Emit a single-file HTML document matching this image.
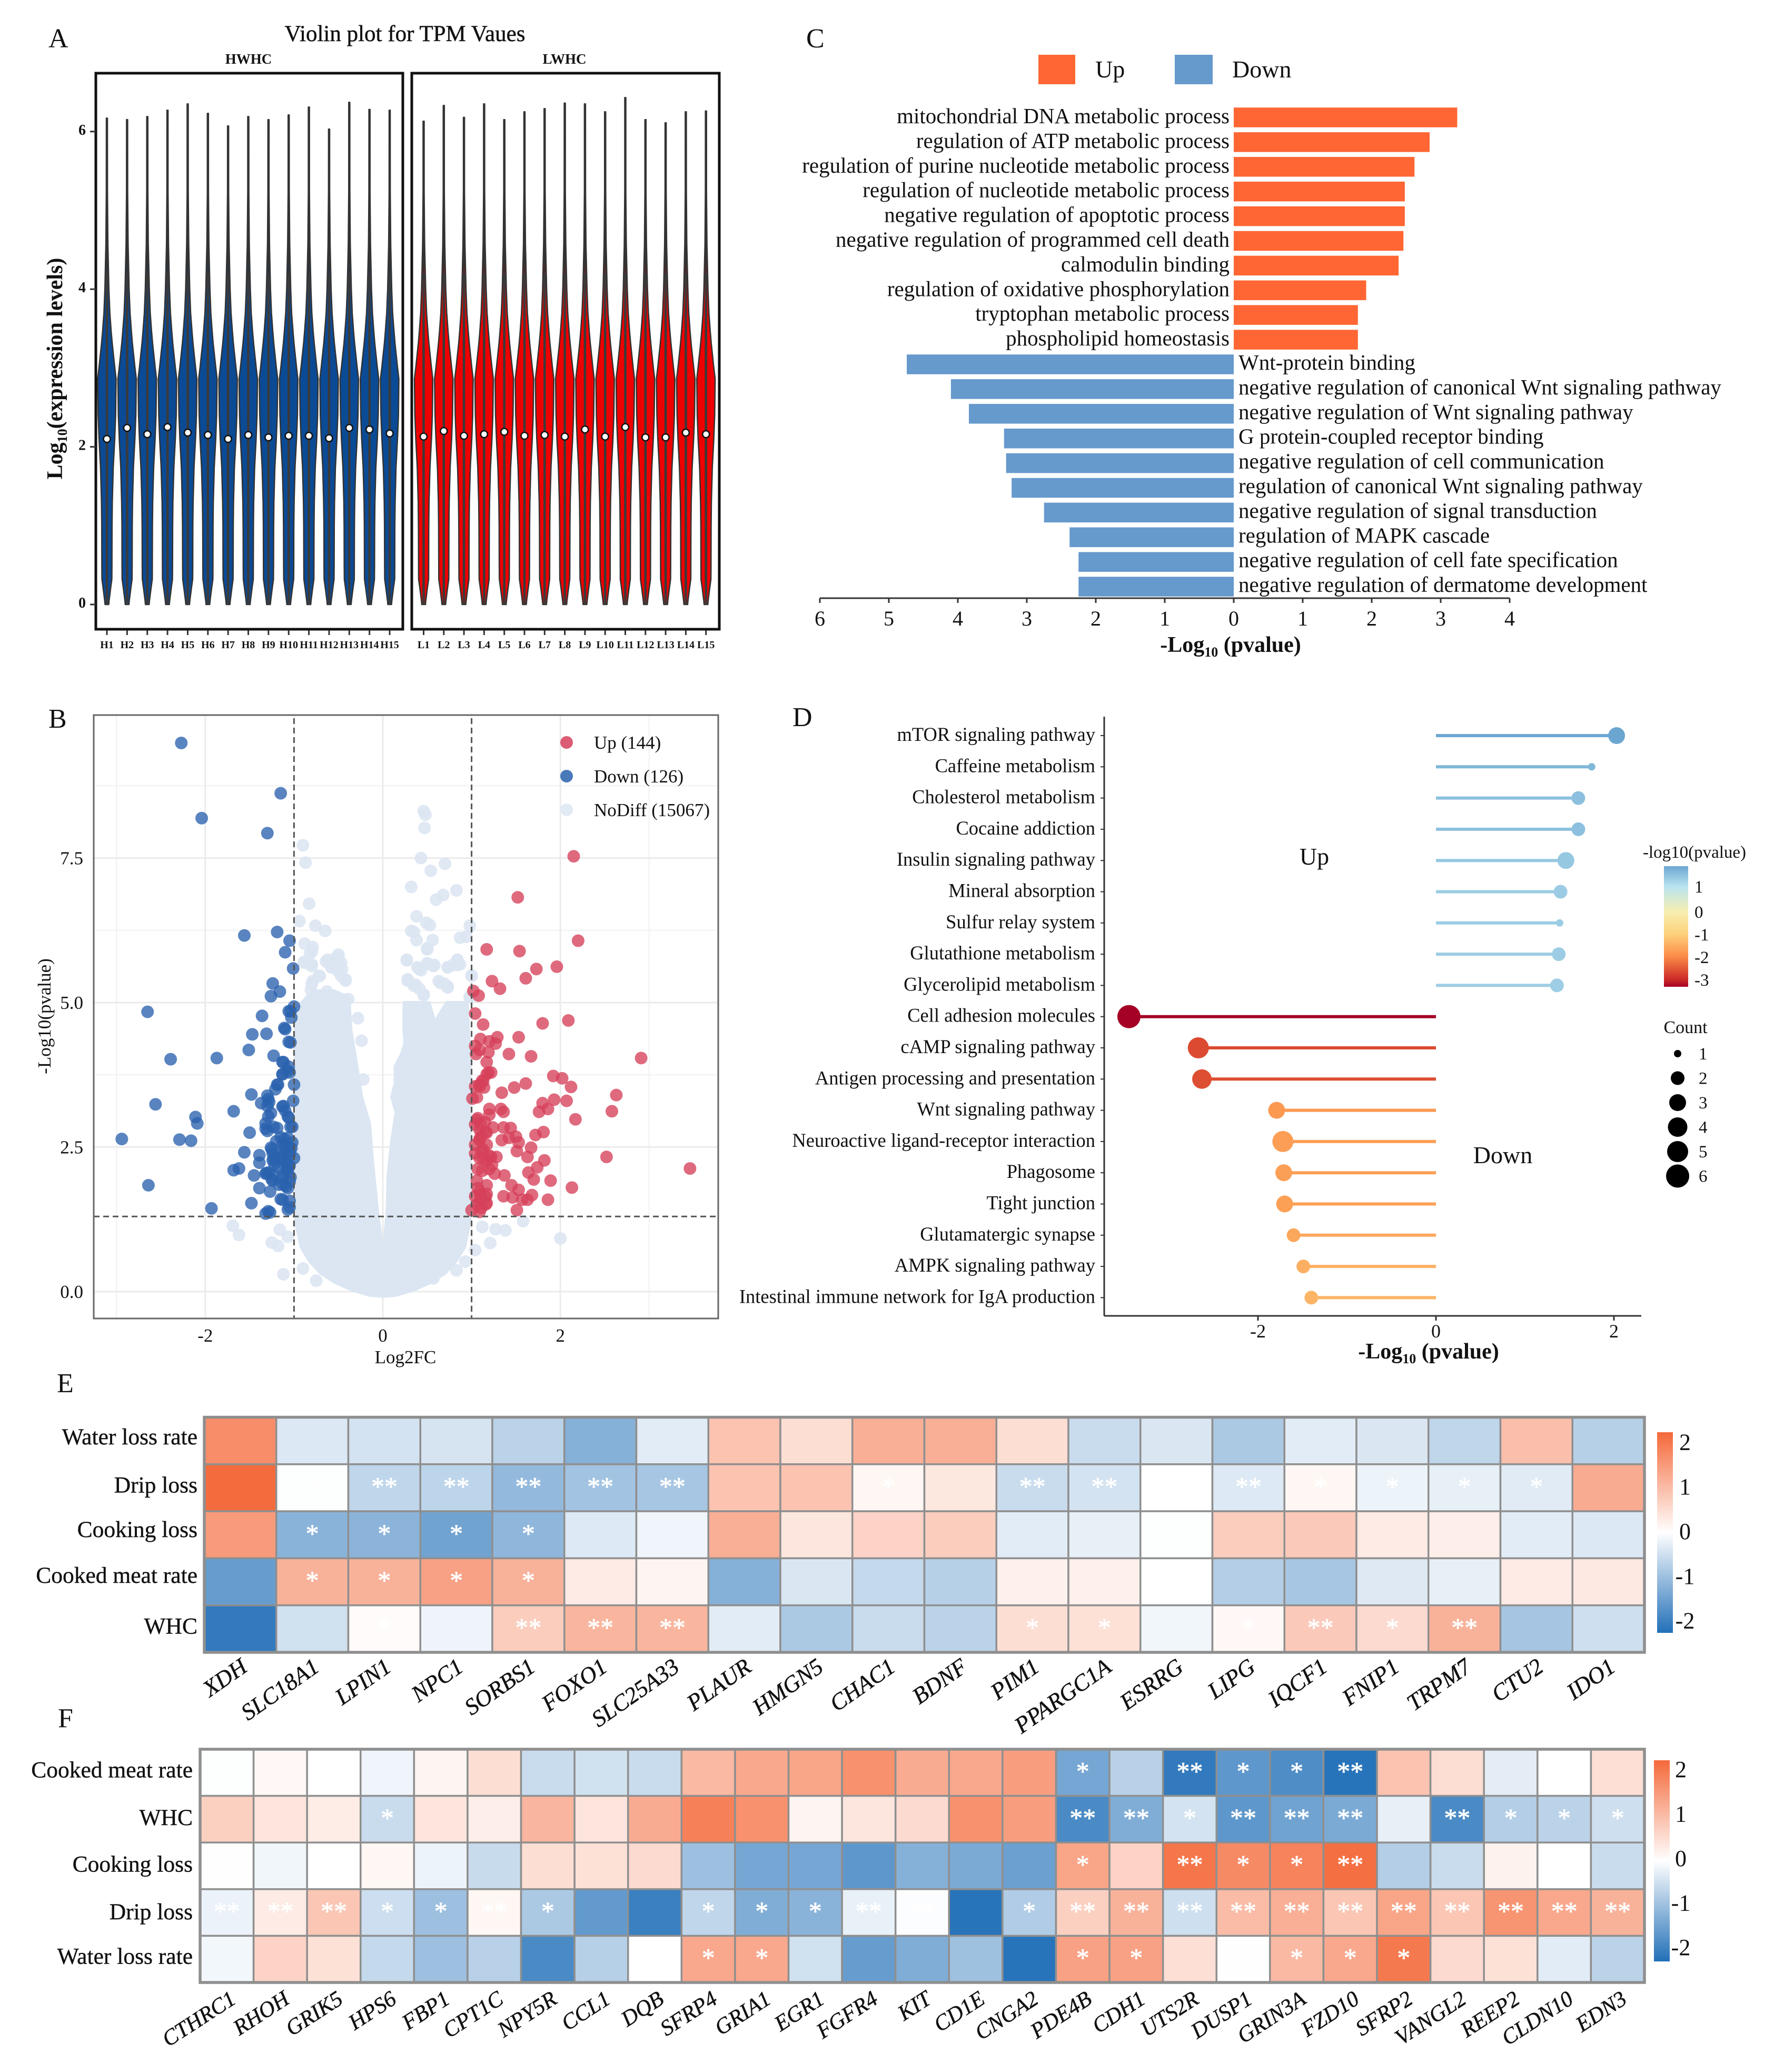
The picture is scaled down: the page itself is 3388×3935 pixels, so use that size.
<!DOCTYPE html>
<html lang="en">
<head>
<meta charset="utf-8">
<title>Multi-panel transcriptome figure</title>
<style>
html,body{margin:0;padding:0;background:#fff;}
svg{display:block;font-family:"Liberation Serif",serif;fill:#111;}
</style>
</head>
<body>
<svg id="fig" xmlns="http://www.w3.org/2000/svg" width="3388" height="3935" viewBox="0 0 3388 3935">
<defs>
<linearGradient id="heatGrad" x1="0" y1="0" x2="0" y2="1">
<stop offset="0" stop-color="#F4693A"/><stop offset="0.5" stop-color="#ffffff"/><stop offset="1" stop-color="#2270B8"/>
</linearGradient>
<linearGradient id="pvalGrad" x1="0" y1="0" x2="0" y2="1">
<stop offset="0" stop-color="#6BA6D1"/><stop offset="0.17" stop-color="#B9E4F0"/><stop offset="0.38" stop-color="#F7EEB0"/><stop offset="0.56" stop-color="#FDD27C"/><stop offset="0.75" stop-color="#FB8A46"/><stop offset="0.94" stop-color="#CC2A27"/><stop offset="1" stop-color="#A50026"/>
</linearGradient>
</defs>
<rect width="3388" height="3935" fill="#fff"/>

<text x="92" y="90" font-size="52">A</text>
<text x="92" y="1382" font-size="52">B</text>
<text x="1531" y="90" font-size="52">C</text>
<text x="1505" y="1379" font-size="52">D</text>
<text x="108" y="2644" font-size="52">E</text>
<text x="110" y="3280" font-size="52">F</text>

<text x="769" y="78" font-size="43" stroke="#111" stroke-width="0.5" text-anchor="middle">Violin plot for TPM Vaues</text>
<text x="472" y="121" font-size="27" font-weight="bold" text-anchor="middle">HWHC</text>
<text x="1072" y="121" font-size="27" font-weight="bold" text-anchor="middle">LWHC</text>
<text transform="translate(118,700) rotate(-90)" font-size="42" font-weight="bold" text-anchor="middle">Log<tspan font-size="26" dy="9">10</tspan><tspan dy="-9">(expression levels)</tspan></text>

<g id="panelA"></g>
<g id="panelB"></g>
<g id="panelC"></g>
<g id="panelD"></g>
<g id="panelE"></g>
<g id="panelF"></g>
</svg>

<script>
// ---------- Panel A data ----------
const violinSamplesH = ['H1','H2','H3','H4','H5','H6','H7','H8','H9','H10','H11','H12','H13','H14','H15'];
const violinSamplesL = ['L1','L2','L3','L4','L5','L6','L7','L8','L9','L10','L11','L12','L13','L14','L15'];
const violinTopsH = [6.17,6.15,6.19,6.27,6.35,6.23,6.07,6.19,6.15,6.21,6.31,6.03,6.37,6.28,6.27];
const violinTopsL = [6.13,6.33,6.18,6.35,6.15,6.25,6.29,6.36,6.35,6.25,6.43,6.15,6.11,6.25,6.26];
const violinMediansH = [2.10,2.24,2.16,2.25,2.18,2.15,2.10,2.15,2.12,2.14,2.14,2.11,2.24,2.22,2.17];
const violinMediansL = [2.13,2.20,2.14,2.16,2.19,2.14,2.15,2.13,2.22,2.13,2.25,2.12,2.12,2.18,2.16];
const violinLevels = [0,0.05,0.2,0.32,0.5,1,1.3,1.74,2.1,2.4,2.86,3.0,3.31,3.46,3.7,4,4.57,5.24];
const violinDensity = [0.2,0.24,0.4,0.54,0.55,0.56,0.59,0.69,0.85,0.95,1,0.86,0.58,0.47,0.32,0.22,0.11,0.06];
const violinYTicks = [0,2,4,6];

// ---------- Panel B data ----------
const downX = [-2.27,-1.15,-2.04,-1.30,-1.56,-1.19,-1.05,-1.10,-1.01,-1.24,-1.16,-1.26,-1.00,-1.06,-1.03,-2.65,-1.36,-1.47,-1.31,-1.10,-1.04,-1.51,-1.23,-2.39,-1.87,-1.12,-1.06,-1.13,-1.05,-1.0,-1.18,-1.21,-1.48,-1.30,-1.37,-2.56,-1.28,-1.13,-1.26,-1.1,-1.68,-1.06,-2.11,-2.09,-1.32,-1.02,-1.19,-1.30,-1.5,-1.15,-1.07,-2.94,-2.29,-2.16,-1.02,-1.13,-1.26,-1.56,-1.39,-1.24,-1.05,-1.13,-1.0,-1.24,-1.39,-1.1,-1.05,-1.18,-1.62,-1.68,-1.07,-1.29,-1.45,-1.24,-1.32,-1.13,-1.24,-1.05,-2.64,-1.07,-1.39,-1.27,-1.13,-1.48,-1.05,-1.93,-1.07,-1.27,-1.32,-1.2,-1.1,-1.03,-1.16,-1.08,-1.22,-1.04,-1.12,-1.01,-1.04,-1.11,-1.06,-1.13,-1.07,-1.13,-1.19,-1.29,-1.30,-1.29,-1.12,-1.07,-1.04,-1.23,-1.32,-1.11,-1.07,-1.25,-1.13,-1.05,-1.23,-1.07,-1.31,-1.12,-1.09,-1.05,-1.15,-1.17,-1.25,-1.29];
const downY = [9.49,8.62,8.19,7.93,6.16,6.22,6.07,5.87,5.59,5.33,5.19,5.11,4.93,4.85,4.74,4.84,4.77,4.45,4.46,4.54,4.31,4.18,4.08,4.02,4.04,3.97,3.89,3.76,3.79,3.58,3.58,3.5,3.41,3.39,3.26,3.24,3.28,3.2,3.09,3.13,3.12,3.01,3.02,2.91,2.91,2.85,2.83,2.78,2.75,2.67,2.66,2.64,2.63,2.61,2.58,2.54,2.49,2.41,2.36,2.39,2.43,2.35,2.31,2.27,2.23,2.23,2.18,2.15,2.13,2.10,2.08,2.06,2.01,2.02,2.04,1.96,1.92,1.90,1.84,1.79,1.79,1.73,1.59,1.53,1.57,1.44,1.42,1.37,1.35,2.6,2.5,2.48,2.3,2.12,2.2,1.98,1.85,3.3,4.85,4.56,4.32,3.97,3.82,3.76,3.58,3.33,3.21,3.03,3.21,3.03,2.85,2.85,2.82,2.64,2.52,2.46,2.40,2.37,2.30,2.21,2.05,2.03,1.82,1.46,1.60,1.85,1.94,1.39];
const upX = [2.15,1.52,2.20,1.17,1.54,1.96,1.73,1.61,1.23,1.32,1.02,1.08,1.04,2.09,1.80,1.13,1.29,1.53,1.10,1.20,1.27,1.04,1.09,1.19,1.05,1.42,1.67,2.91,1.17,1.22,1.17,1.92,2.02,1.12,1.61,1.48,2.12,1.09,1.04,1.14,1.34,2.63,1.06,1.01,1.93,2.07,1.80,1.86,1.20,1.33,1.76,2.58,1.36,1.20,2.17,1.06,1.15,1.04,1.24,1.36,1.44,1.09,1.17,1.81,1.72,1.11,1.50,1.42,1.34,1.09,1.53,1.04,1.17,1.67,1.11,1.51,1.04,1.20,1.09,1.28,1.63,2.52,3.46,1.17,1.82,1.74,1.23,1.64,1.12,1.26,1.37,1.70,1.89,1.06,1.17,2.13,1.45,1.53,1.09,1.17,1.68,1.36,1.46,1.04,1.11,1.57,1.63,1.86,1.17,1.06,1.11,1.51,1.00,1.09,1.10,1.16,1.09,1.16,1.07,1.13,1.09,1.16,1.10,1.07,1.13,1.22,1.07,1.20,1.13,1.19,1.09];
const upY = [7.53,6.82,6.07,5.92,5.89,5.62,5.58,5.42,5.37,5.24,5.20,5.12,4.81,4.69,4.64,4.62,4.40,4.40,4.37,4.33,4.29,4.25,4.18,4.14,4.11,4.11,4.07,4.04,3.97,3.79,3.76,3.73,3.69,3.65,3.60,3.53,3.54,3.58,3.55,3.53,3.44,3.40,3.36,3.34,3.32,3.30,3.26,3.16,3.16,3.16,3.11,3.12,3.11,3.06,2.98,2.97,2.93,2.89,2.84,2.84,2.83,2.80,2.75,2.76,2.71,2.70,2.68,2.66,2.62,2.62,2.58,2.54,2.54,2.49,2.43,2.43,2.39,2.35,2.31,2.33,2.33,2.33,2.13,2.27,2.27,2.15,2.19,2.06,2.09,2.04,2.01,1.94,1.92,1.92,1.84,1.80,1.84,1.76,1.73,1.69,1.67,1.65,1.63,1.65,1.61,1.59,1.59,1.59,1.53,1.51,1.45,1.41,1.41,1.38,1.67,1.64,1.55,1.51,1.79,2.46,2.64,2.76,2.91,3.0,2.30,2.33,2.12,2.12,3.64,3.79,3.55];
const noDiffX = [-.90,-.87,-.83,-.94,-.76,-.65,-.88,-.79,-.82,-.88,-.80,-.64,-.5,-.55,-.47,-.58,-.72,-.5,-.42,-.8,.46,.48,.47,.43,.70,.54,.32,.68,.60,.83,.38,.49,.53,.98,.32,.35,.87,.94,.38,.56,.50,.27,.50,.57,.84,.73,.84,.41,1.0,.28,.65,.35,.73,.46,.98,-1.69,-1.62,-1.25,-1.18,-1.12,-.9,-.75,-1.16,-1.07,1.12,1.27,1.38,1.58,2.0,1.21,1.04,.93,.83,.57,-.80,-.89,-.80,-.62,-.50,-.46,-.42,-.71,-.79,-.81,-.53,-.58,-.47,-.28,-.24,-.22,-.39,-.63,.27,.39,.43,.51,.58,.73,.84,.87,1.0,.50,.28,.37,.46,.63,.73,.41,.69,.98,.79];
const noDiffY = [7.72,7.42,6.71,6.41,6.33,6.24,6.02,5.96,5.85,5.69,5.63,5.71,5.79,5.75,5.69,5.61,5.46,5.54,5.38,5.32,8.31,8.25,8.02,7.50,7.40,7.28,7.0,6.86,6.78,6.94,6.49,6.38,6.34,6.33,6.24,6.22,6.12,6.14,6.08,6.08,5.94,5.73,5.68,5.63,5.73,5.61,5.65,5.58,5.46,5.38,5.34,5.29,5.26,5.13,5.09,1.14,.98,.85,.79,.30,.40,.19,1.07,.95,1.12,1.08,1.06,1.22,.92,.84,.72,.52,.37,.23,5.88,5.70,5.66,5.74,5.83,5.58,5.40,5.46,5.37,5.22,5.67,5.61,5.46,4.73,4.34,3.67,5.06,5.19,5.74,5.61,5.56,5.67,5.65,5.61,5.74,5.66,5.47,5.92,5.40,5.31,5.14,5.37,5.28,5.24,5.33,5.10,5.65];
const cloudLeftX = [0,-.15,-.35,-.55,-.7,-.82,-.92,-.98,-.98,-.88,-.8,-.55,-.4,-.38,-.36,-.30,-.24,-.15,-.12,-.06,-.02,0];
const cloudLeftY = [-.08,-.06,.03,.17,.32,.52,.77,1.2,4.9,5.05,5.2,5.2,5.1,5.04,4.52,3.97,3.37,2.91,2.3,1.39,.9,.75];
const cloudRightX = [0,.15,.35,.55,.7,.82,.92,.98,.98,.95,.72,.62,.59,.52,.24,.24,.25,.21,.14,.14,.10,.15,.10,.06,.05,.02,0];
const cloudRightY = [-.08,-.06,.03,.17,.32,.52,.77,1.2,4.0,5.0,5.0,4.75,4.64,5.0,5.0,4.5,4.3,4.1,3.9,3.6,3.37,3.1,2.6,2.0,1.39,.9,.75];
const volcanoXTicks = [-2,0,2];
const volcanoYTicks = [0,2.5,5,7.5];
const volcanoXMinor = [-3,-1,1,3];
const volcanoYMinor = [3.75,6.25,8.75];
const volcanoLegend = ['Up (144)','Down (126)','NoDiff (15067)'];

// ---------- Panel C data ----------
const goUpTerms = ['mitochondrial DNA metabolic process','regulation of ATP metabolic process','regulation of purine nucleotide metabolic process','regulation of nucleotide metabolic process','negative regulation of apoptotic process','negative regulation of programmed cell death','calmodulin binding','regulation of oxidative phosphorylation','tryptophan metabolic process','phospholipid homeostasis'];
const goUpValues = [3.24,2.84,2.62,2.48,2.48,2.46,2.39,1.92,1.80,1.80];
const goDownTerms = ['Wnt-protein binding','negative regulation of canonical Wnt signaling pathway','negative regulation of Wnt signaling pathway','G protein-coupled receptor binding','negative regulation of cell communication','regulation of canonical Wnt signaling pathway','negative regulation of signal transduction','regulation of MAPK cascade','negative regulation of cell fate specification','negative regulation of dermatome development'];
const goDownValues = [4.74,4.10,3.84,3.33,3.30,3.22,2.75,2.38,2.25,2.25];
const goXTicks = [-6,-5,-4,-3,-2,-1,0,1,2,3,4];

// ---------- Panel D data ----------
const keggTerms = ['mTOR signaling pathway','Caffeine metabolism','Cholesterol metabolism','Cocaine addiction','Insulin signaling pathway','Mineral absorption','Sulfur relay system','Glutathione metabolism','Glycerolipid metabolism','Cell adhesion molecules','cAMP signaling pathway','Antigen processing and presentation','Wnt signaling pathway','Neuroactive ligand-receptor interaction','Phagosome','Tight junction','Glutamatergic synapse','AMPK signaling pathway','Intestinal immune network for IgA production'];
const keggValues = [2.03,1.75,1.60,1.60,1.46,1.40,1.39,1.38,1.36,-3.45,-2.67,-2.63,-1.79,-1.72,-1.71,-1.70,-1.60,-1.49,-1.40];
const keggCounts = [3,1,2,2,3,2,1,2,2,6,5,4,3,5,3,3,2,2,2];
const keggXTicks = [-2,0,2];
const countLevels = [1,2,3,4,5,6];
const pvalTicks = [1,0,-1,-2,-3];
const pvalStopValues = [2.03,1,0,-1,-2,-3,-3.45];

// ---------- Panel E data ----------
const heatEGenes = ['XDH','SLC18A1','LPIN1','NPC1','SORBS1','FOXO1','SLC25A33','PLAUR','HMGN5','CHAC1','BDNF','PIM1','PPARGC1A','ESRRG','LIPG','IQCF1','FNIP1','TRPM7','CTU2','IDO1'];
const heatERows = ['Water loss rate','Drip loss','Cooking loss','Cooked meat rate','WHC'];
const heatEWater = [1.7,-.36,-.45,-.42,-.7,-1.25,-.3,.9,.5,1.2,1.2,.5,-.55,-.38,-.85,-.3,-.38,-.65,.95,-.75];
const heatEDrip = [2.2,-.02,-.65,-.67,-1.1,-.95,-.9,.9,.9,.12,.35,-.55,-.45,0,-.35,.12,-.18,-.25,-.32,1.25];
const heatECooking = [1.5,-1.2,-1.18,-1.45,-1.15,-.35,-.16,1.2,.38,.65,.75,-.3,-.25,-.02,.75,.8,.3,.25,-.3,-.36];
const heatECooked = [-1.55,1.15,1.15,1.4,1.15,.3,.15,-1.25,-.38,-.6,-.75,.22,.22,0,-.78,-.9,-.34,-.24,.3,.33];
const heatEWhc = [-2.1,-.48,.06,-.17,.75,1.1,1.1,-.3,-.85,-.55,-.7,.5,.45,-.15,.1,.8,.55,1.15,-.92,-.5];
const starsEWater = ['','','','','','','','','','','','','','','','','','','',''];
const starsEDrip = ['','*','**','**','**','**','**','','','*','','**','**','','**','*','*','*','*',''];
const starsECooking = ['','*','*','*','*','','','','','','','','','','','','','','',''];
const starsECooked = ['','*','*','*','*','','','','','','','','','','','','','','',''];
const starsEWhc = ['','','*','','**','**','**','','','','','*','*','','*','**','*','**','',''];
const heatETicks = [2,1,0,-1,-2];

// ---------- Panel F data ----------
const heatFGenes = ['CTHRC1','RHOH','GRIK5','HPS6','FBP1','CPT1C','NPY5R','CCL1','DQB','SFRP4','GRIA1','EGR1','FGFR4','KIT','CD1E','CNGA2','PDE4B','CDH1','UTS2R','DUSP1','GRIN3A','FZD10','SFRP2','VANGL2','REEP2','CLDN10','EDN3'];
const heatFRows = ['Cooked meat rate','WHC','Cooking loss','Drip loss','Water loss rate'];
const heatFCooked = [-.02,.1,0,-.16,.15,.5,-.55,-.48,-.55,1.05,1.3,1.35,1.65,1.25,1.3,1.45,-1.4,-.73,-2.1,-1.65,-1.8,-2.2,.9,.5,-.28,0,.48];
const heatFWhc = [.7,.4,.28,-.55,.4,.25,1.1,.4,1.25,1.9,1.65,.15,.38,.55,1.65,1.45,-1.85,-1.3,-.45,-1.65,-1.45,-1.35,-.25,-1.85,-.78,-.7,-.5];
const heatFCooking = [-.01,-.15,0,.12,-.18,-.57,.5,.45,.55,-1,-1.4,-1.4,-1.65,-1.25,-1.35,-1.5,1.35,.65,2.05,1.75,1.85,2.15,-.78,-.55,.2,0,-.55];
const heatFDrip = [-.2,.3,.85,-.52,-1,.12,-.85,-1.6,-2,-.65,-1.3,-1.2,-.22,-.03,-2.2,-.8,.7,1.15,-.5,1,1.2,.85,1.35,.85,1.6,1.3,1.15];
const heatFWater = [-.13,.65,.45,-.6,-1,-.73,-1.85,-.75,0,1.3,1.3,-.48,-1.55,-1.3,-.98,-2.2,1.4,1.4,.48,-.01,1.05,1.3,2,.55,.45,-.3,-.7];
const starsFCooked = ['','','','','','','','','','','','','','','','','*','','**','*','*','**','','','','',''];
const starsFWhc = ['','','','*','','','','','','','','','','','','','**','**','*','**','**','**','','**','*','*','*'];
const starsFCooking = ['','','','','','','','','','','','','','','','','*','','**','*','*','**','','','','',''];
const starsFDrip = ['**','**','**','*','*','**','*','','','*','*','*','**','**','','*','**','**','**','**','**','**','**','**','**','**','**'];
const starsFWater = ['','','','','','','','','','*','*','','','','','','*','*','','','*','*','*','','','',''];
const heatFTicks = [2,1,0,-1,-2];

// ---------- Helpers ----------
const NS = 'http://www.w3.org/2000/svg';
function mk(tag, attrs, parent, text) {
  const e = document.createElementNS(NS, tag);
  for (const k in attrs) e.setAttribute(k, attrs[k]);
  if (text !== undefined) e.textContent = text;
  parent.appendChild(e);
  return e;
}
function slug(s) { return String(s).toLowerCase().replace(/[^a-z0-9]+/g, '-').replace(/^-|-$/g, ''); }
function hexToRgb(h) { return [parseInt(h.slice(1,3),16), parseInt(h.slice(3,5),16), parseInt(h.slice(5,7),16)]; }
function mix(a, b, t) {
  const A = hexToRgb(a), B = hexToRgb(b);
  return 'rgb(' + A.map((v, i) => Math.round(v + (B[i] - v) * t)).join(',') + ')';
}

// ---------- Panel A ----------
(function () {
  const g = document.getElementById('panelA');
  const yA = v => 1148 - 149.7 * v;
  function drawFacet(samples, tops, medians, x0, step, fill, frameX, frameW, key) {
    const frame = mk('rect', {x: frameX, y: 139, width: frameW, height: 1056, fill: '#fff', stroke: '#111', 'stroke-width': 5}, g);
    
    
    samples.forEach((s, i) => {
      const cx = x0 + step * i;
      const hw = d => 17.5 * d;
      let right = '', left = '';
      violinLevels.forEach((lv, j) => {
        right += (j ? 'L' : 'M') + (cx + hw(violinDensity[j])).toFixed(1) + ' ' + yA(lv).toFixed(1);
      });
      for (let j = violinLevels.length - 1; j >= 0; j--) {
        left += 'L' + (cx - hw(violinDensity[j])).toFixed(1) + ' ' + yA(violinLevels[j]).toFixed(1);
      }
      const body = mk('path', {d: right + 'L' + (cx + 1) + ' ' + yA(tops[i]).toFixed(1) + 'L' + (cx - 1) + ' ' + yA(tops[i]).toFixed(1) + left + 'Z', fill: fill, stroke: '#333', 'stroke-width': 2.5, 'stroke-linejoin': 'round'}, g);
      
      
      const box = mk('line', {x1: cx, x2: cx, y1: yA(0), y2: yA(4.2), stroke: '#3a3a3a', 'stroke-width': 4.5}, g);
      
      
      const whisk = mk('line', {x1: cx, x2: cx, y1: yA(4.2), y2: yA(tops[i]), stroke: '#333', 'stroke-width': 3}, g);
      
      
      const med = mk('circle', {cx: cx, cy: yA(medians[i]), r: 6.5, fill: '#fff', stroke: '#111', 'stroke-width': 2.5}, g);
      
      
      const tick = mk('line', {x1: cx, x2: cx, y1: 1197, y2: 1206, stroke: '#333', 'stroke-width': 3}, g);
      
      
      const lab = mk('text', {x: cx, y: 1231, 'font-size': 20, 'font-weight': 'bold', 'text-anchor': 'middle'}, g, s);
      
      
    });
  }
  drawFacet(violinSamplesH, violinTopsH, violinMediansH, 203, 38.36, '#0B4A95', 182, 583, 'hwhc');
  drawFacet(violinSamplesL, violinTopsL, violinMediansL, 804.5, 38.3, '#EE0000', 782, 584, 'lwhc');
  violinYTicks.forEach(v => {
    const t = mk('line', {x1: 171, x2: 182, y1: yA(v), y2: yA(v), stroke: '#333', 'stroke-width': 3}, g);
    
    
    const l = mk('text', {x: 163, y: yA(v) + 6, 'font-size': 28, 'font-weight': 'bold', 'text-anchor': 'end'}, g, v);
    
    
  });
})();

// ---------- Panel B ----------
(function () {
  const g = document.getElementById('panelB');
  const xB = v => 727 + 168.6 * v;
  const yB = v => 2453 - 109.8 * v;
  const L = 178, R = 1364, T = 1358, B = 2504;
  const bg = mk('rect', {x: L, y: T, width: R - L, height: B - T, fill: '#fff'}, g);
  
  
  volcanoXMinor.forEach(v => {
    const l = mk('line', {x1: xB(v), x2: xB(v), y1: T, y2: B, stroke: '#f1f1f1', 'stroke-width': 2}, g);
    
    
  });
  volcanoYMinor.forEach(v => {
    const l = mk('line', {x1: L, x2: R, y1: yB(v), y2: yB(v), stroke: '#f1f1f1', 'stroke-width': 2}, g);
    
    
  });
  volcanoXTicks.forEach(v => {
    const l = mk('line', {x1: xB(v), x2: xB(v), y1: T, y2: B, stroke: '#ebebeb', 'stroke-width': 3}, g);
    
    
    const t = mk('text', {x: xB(v), y: 2548, 'font-size': 35, 'text-anchor': 'middle'}, g, v);
    
    
  });
  volcanoYTicks.forEach(v => {
    const l = mk('line', {x1: L, x2: R, y1: yB(v), y2: yB(v), stroke: '#ebebeb', 'stroke-width': 3}, g);
    
    
    const t = mk('text', {x: 158, y: yB(v) + 12, 'font-size': 35, 'text-anchor': 'end'}, g, v.toFixed(1));
    
    
  });
  function cloud(xs, ys, name) {
    let d = '';
    xs.forEach((x, i) => { d += (i ? 'L' : 'M') + xB(x).toFixed(1) + ' ' + yB(ys[i]).toFixed(1); });
    const p = mk('path', {d: d + 'Z', fill: '#DBE6F2', stroke: '#DBE6F2', 'stroke-width': 6, 'stroke-linejoin': 'round'}, g);
    
    
  }
  cloud(cloudLeftX, cloudLeftY, 'nodiff-dense-cloud-left');
  cloud(cloudRightX, cloudRightY, 'nodiff-dense-cloud-right');
  noDiffX.forEach((x, i) => {
    const c = mk('circle', {cx: xB(x), cy: yB(noDiffY[i]), r: 12, fill: '#DBE6F2', 'fill-opacity': 0.9}, g);
    
    
  });
  downX.forEach((x, i) => {
    const c = mk('circle', {cx: xB(x), cy: yB(downY[i]), r: 12, fill: '#2A62AE', 'fill-opacity': 0.78}, g);
    
    
  });
  upX.forEach((x, i) => {
    const c = mk('circle', {cx: xB(x), cy: yB(upY[i]), r: 12, fill: '#D6405A', 'fill-opacity': 0.78}, g);
    
    
  });
  [-1, 1].forEach(v => {
    const l = mk('line', {x1: xB(v), x2: xB(v), y1: T + 6, y2: B, stroke: '#555', 'stroke-width': 3, 'stroke-dasharray': '11 7'}, g);
    
    
  });
  const h = mk('line', {x1: L, x2: R, y1: yB(1.3), y2: yB(1.3), stroke: '#555', 'stroke-width': 3, 'stroke-dasharray': '11 7'}, g);
  
  
  const frame = mk('rect', {x: L, y: T, width: R - L, height: B - T, fill: 'none', stroke: '#666', 'stroke-width': 3}, g);
  
  
  volcanoLegend.forEach((txt, i) => {
    const cols = ['#D6405A', '#2A62AE', '#DDE7F3'];
    const ly = 1410 + 64 * i;
    const c = mk('circle', {cx: 1076, cy: ly, r: 12, fill: cols[i], 'fill-opacity': 0.85}, g);
    
    
    const t = mk('text', {x: 1128, y: ly + 12, 'font-size': 35}, g, txt);
    
    
  });
  const xt = mk('text', {x: 770, y: 2589, 'font-size': 35, 'text-anchor': 'middle'}, g, 'Log2FC');
  
  
  const yt = mk('text', {transform: 'translate(96,1930) rotate(-90)', 'font-size': 35, 'text-anchor': 'middle'}, g, '-Log10(pvalue)');
  
  
})();

// ---------- Panel C ----------
(function () {
  const g = document.getElementById('panelC');
  const xC = v => 2343 + 131 * v;
  const yC = i => 223 + 46.9 * i;
  const bh = 37.5;
  goUpTerms.forEach((term, i) => {
    const b = mk('rect', {x: xC(0), y: yC(i) - bh / 2, width: xC(goUpValues[i]) - xC(0), height: bh, fill: '#FF6633'}, g);
    
    
    const t = mk('text', {x: 2335, y: yC(i) + 11, 'font-size': 41, 'text-anchor': 'end'}, g, term);
    
    
  });
  goDownTerms.forEach((term, i) => {
    const y = yC(i + 10);
    const b = mk('rect', {x: xC(-goDownValues[i]), y: y - bh / 2, width: xC(0) - xC(-goDownValues[i]), height: bh, fill: '#6699CC'}, g);
    
    
    const t = mk('text', {x: 2352, y: y + 10, 'font-size': 41}, g, term);
    
    
  });
  const ax = mk('line', {x1: xC(-6), x2: xC(4), y1: 1136, y2: 1136, stroke: '#333', 'stroke-width': 3}, g);
  
  
  goXTicks.forEach(v => {
    const t = mk('line', {x1: xC(v), x2: xC(v), y1: 1136, y2: 1145, stroke: '#333', 'stroke-width': 3}, g);
    
    
    const l = mk('text', {x: xC(v), y: 1188, 'font-size': 40, 'text-anchor': 'middle'}, g, Math.abs(v));
    
    
  });
  const title = mk('text', {x: 2337, y: 1238, 'font-size': 42, 'font-weight': 'bold', 'text-anchor': 'middle'}, g);
  
  
  mk('tspan', {}, title, '-Log');
  mk('tspan', {'font-size': 26, dy: 9}, title, '10');
  mk('tspan', {dy: -9}, title, ' (pvalue)');
  const lu = mk('rect', {x: 1972, y: 104, width: 70, height: 56, fill: '#FF6633'}, g);
  
  
  const lut = mk('text', {x: 2080, y: 147, 'font-size': 46}, g, 'Up');
  
  
  const ld = mk('rect', {x: 2231, y: 104, width: 72, height: 56, fill: '#6699CC'}, g);
  
  
  const ldt = mk('text', {x: 2340, y: 147, 'font-size': 46}, g, 'Down');
  
  
})();

// ---------- Panel D ----------
(function () {
  const g = document.getElementById('panelD');
  const xD = v => 2727 + 169 * v;
  const yD = i => 1397 + 59.3 * i;
  const stopColors = ['#6BA6D1', '#B9E4F0', '#F7EEB0', '#FDD27C', '#FB8A46', '#CC2A27', '#A50026'];
  function colorOf(v) {
    for (let i = 0; i < pvalStopValues.length - 1; i++) {
      const a = pvalStopValues[i], b = pvalStopValues[i + 1];
      if (v <= a && v >= b) return mix(stopColors[i], stopColors[i + 1], (a - v) / (a - b));
    }
    return v > 0 ? stopColors[0] : stopColors[stopColors.length - 1];
  }
  const radius = c => [0, 7, 13, 16, 18.5, 20, 22][c];
  const ya = mk('line', {x1: 2097, x2: 2097, y1: 1361, y2: 2499, stroke: '#333', 'stroke-width': 3}, g);
  
  
  const xa = mk('line', {x1: 2097, x2: 3117, y1: 2499, y2: 2499, stroke: '#333', 'stroke-width': 3}, g);
  
  
  keggTerms.forEach((term, i) => {
    const col = colorOf(keggValues[i]);
    const s = mk('line', {x1: xD(0), x2: xD(keggValues[i]), y1: yD(i), y2: yD(i), stroke: col, 'stroke-width': 6}, g);
    
    
    const c = mk('circle', {cx: xD(keggValues[i]), cy: yD(i), r: radius(keggCounts[i]), fill: col}, g);
    
    
    const t = mk('text', {x: 2080, y: yD(i) + 10, 'font-size': 36.5, 'text-anchor': 'end'}, g, term);
    
    
    const k = mk('line', {x1: 2090, x2: 2097, y1: yD(i), y2: yD(i), stroke: '#333', 'stroke-width': 2}, g);
    
    
  });
  keggXTicks.forEach(v => {
    const k = mk('line', {x1: xD(v), x2: xD(v), y1: 2499, y2: 2508, stroke: '#333', 'stroke-width': 3}, g);
    
    
    const t = mk('text', {x: xD(v), y: 2540, 'font-size': 36, 'text-anchor': 'middle'}, g, v);
    
    
  });
  const title = mk('text', {x: 2713, y: 2580, 'font-size': 42, 'font-weight': 'bold', 'text-anchor': 'middle'}, g);
  
  
  mk('tspan', {}, title, '-Log');
  mk('tspan', {'font-size': 26, dy: 9}, title, '10');
  mk('tspan', {dy: -9}, title, ' (pvalue)');
  const up = mk('text', {x: 2496, y: 1642, 'font-size': 46, 'text-anchor': 'middle'}, g, 'Up');
  
  
  const dn = mk('text', {x: 2854, y: 2209, 'font-size': 46, 'text-anchor': 'middle'}, g, 'Down');
  
  
  const lt = mk('text', {x: 3218, y: 1629, 'font-size': 33, 'text-anchor': 'middle'}, g, '-log10(pvalue)');
  
  
  const cb = mk('rect', {x: 3160, y: 1645, width: 46, height: 229, fill: 'url(#pvalGrad)'}, g);
  
  
  pvalTicks.forEach(v => {
    const y = 1732 - (v >= 0 ? 48 * v : 43 * v);
    const t = mk('text', {x: 3218, y: y + 11, 'font-size': 33}, g, v);
    
    
  });
  const ct = mk('text', {x: 3201, y: 1962, 'font-size': 34, 'text-anchor': 'middle'}, g, 'Count');
  
  
  countLevels.forEach((v, i) => {
    const y = 2001 + 46.5 * i;
    const c = mk('circle', {cx: 3186, cy: y, r: radius(v), fill: '#000'}, g);
    
    
    const t = mk('text', {x: 3226, y: y + 11, 'font-size': 33}, g, v);
    
    
  });
})();

// ---------- Heatmaps ----------
function heatColor(v) {
  return v >= 0 ? mix('#ffffff', '#F4693A', Math.min(1, v / 2.24)) : mix('#ffffff', '#2270B8', Math.min(1, -v / 2.26));
}
function drawHeat(cfg) {
  const g = cfg.g, nC = cfg.genes.length, nR = cfg.rows.length;
  const cw = (cfg.R - cfg.L) / nC, ch = (cfg.B - cfg.T) / nR;
  cfg.rows.forEach((row, r) => {
    const yc = cfg.T + ch * (r + 0.5);
    cfg.genes.forEach((gene, c) => {
      const rect = mk('rect', {x: cfg.L + c * cw, y: cfg.T + r * ch, width: cw, height: ch, fill: heatColor(cfg.values[r][c]), stroke: '#8f8f8f', 'stroke-width': 3.5}, g);
      
      
      if (cfg.stars[r][c]) {
        const s = mk('text', {x: cfg.L + (c + 0.5) * cw, y: yc + 14, 'font-size': 50, 'text-anchor': 'middle', fill: '#fff', stroke: '#fff', 'stroke-width': 0.8, style: 'fill:#fff'}, g, cfg.stars[r][c]);
        
        
      }
    });
    const t = mk('text', {x: cfg.labelX, y: yc + 9 + cfg.rowDy[r], 'font-size': 43.5, stroke: '#111', 'stroke-width': 0.4, 'text-anchor': 'end'}, g, row);
    
    
  });
  const fr = mk('rect', {x: cfg.L, y: cfg.T, width: cfg.R - cfg.L, height: cfg.B - cfg.T, fill: 'none', stroke: '#8f8f8f', 'stroke-width': 5.5}, g);
  
  
  cfg.genes.forEach((gene, c) => {
    const x = cfg.L + (c + 0.5) * cw + cfg.labelNudge;
    const t = mk('text', {transform: 'translate(' + x + ',' + cfg.labelY + ') rotate(' + cfg.angle + ')', 'font-size': cfg.labelSize, 'font-style': 'italic', stroke: '#111', 'stroke-width': 0.5, 'text-anchor': 'end'}, g, gene);
    
    
  });
  const cb = mk('rect', {x: cfg.cbX, y: cfg.cbT, width: 30, height: cfg.cbB - cfg.cbT, fill: 'url(#heatGrad)'}, g);
  
  
  cfg.ticks.forEach(v => {
    const t = mk('text', {x: cfg.cbLabelX, y: cfg.cbZero - v * cfg.cbUnit + 15, 'font-size': 44, 'text-anchor': 'middle'}, g, v);
    
    
  });
}
drawHeat({
  g: document.getElementById('panelE'),
  genes: heatEGenes, rows: heatERows,
  values: [heatEWater, heatEDrip, heatECooking, heatECooked, heatEWhc],
  stars: [starsEWater, starsEDrip, starsECooking, starsECooked, starsEWhc],
  L: 388, R: 3123, T: 2691.5, B: 3138, labelX: 375, rowDy: [-2, 0, -5, -7, 0],
  labelNudge: 16, labelY: 3172, angle: -35, labelSize: 44,
  cbX: 3147, cbT: 2720, cbB: 3101, cbLabelX: 3200, cbZero: 2908, cbUnit: 84.8, ticks: heatETicks
});
drawHeat({
  g: document.getElementById('panelF'),
  genes: heatFGenes, rows: heatFRows,
  values: [heatFCooked, heatFWhc, heatFCooking, heatFDrip, heatFWater],
  stars: [starsFCooked, starsFWhc, starsFCooking, starsFDrip, starsFWater],
  L: 380, R: 3123, T: 3322, B: 3765, labelX: 366, rowDy: [0, 2, 2, 4, 0],
  labelNudge: 20, labelY: 3803, angle: -33, labelSize: 42,
  cbX: 3141, cbT: 3343, cbB: 3725, cbLabelX: 3192, cbZero: 3529, cbUnit: 84.5, ticks: heatFTicks
});
</script>
</body>
</html>
